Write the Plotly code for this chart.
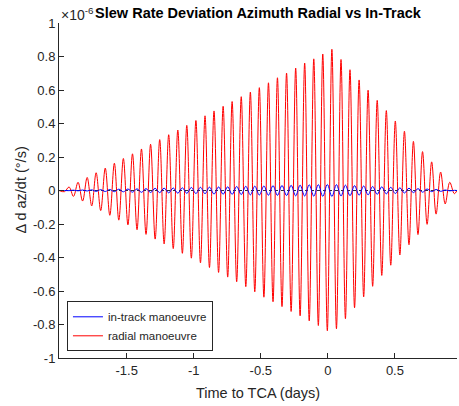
import plotly.graph_objects as go

# Time of each turning point of the oscillation (days relative to TCA)
time_days = [
    -2.005, -1.964, -1.930, -1.897, -1.863, -1.829, -1.795, -1.761, -1.728, -1.694,
    -1.660, -1.626, -1.592, -1.559, -1.525, -1.491, -1.457, -1.423, -1.390, -1.356,
    -1.322, -1.288, -1.254, -1.221, -1.187, -1.153, -1.119, -1.085, -1.052, -1.018,
    -0.984, -0.950, -0.916, -0.883, -0.849, -0.815, -0.781, -0.747, -0.714, -0.680,
    -0.646, -0.612, -0.578, -0.545, -0.511, -0.477, -0.443, -0.409, -0.376, -0.342,
    -0.308, -0.274, -0.240, -0.207, -0.173, -0.139, -0.105, -0.071, -0.038, -0.004,
    0.030, 0.064, 0.098, 0.131, 0.165, 0.199, 0.233, 0.267, 0.300, 0.334,
    0.368, 0.402, 0.436, 0.469, 0.503, 0.537, 0.571, 0.605, 0.638, 0.672,
    0.706, 0.740, 0.774, 0.807, 0.841, 0.875, 0.909, 0.943, 0.963,
]

# Slew rate deviation in azimuth, units of 1e-6 deg/s
radial_dev = [
    0.0, -0.007, 0.021, -0.035, 0.049, -0.063, 0.078, -0.092, 0.106, -0.120,
    0.134, -0.148, 0.163, -0.177, 0.191, -0.205, 0.219, -0.234, 0.248, -0.262,
    0.276, -0.290, 0.304, -0.319, 0.333, -0.347, 0.361, -0.375, 0.389, -0.404,
    0.418, -0.432, 0.446, -0.460, 0.475, -0.489, 0.503, -0.517, 0.531, -0.545,
    0.560, -0.574, 0.588, -0.605, 0.614, -0.637, 0.643, -0.664, 0.673, -0.693,
    0.701, -0.722, 0.731, -0.748, 0.761, -0.778, 0.786, -0.806, 0.815, -0.837,
    0.843, -0.825, 0.782, -0.765, 0.721, -0.700, 0.660, -0.635, 0.599, -0.572,
    0.538, -0.507, 0.477, -0.446, 0.415, -0.385, 0.354, -0.324, 0.293, -0.263,
    0.232, -0.202, 0.171, -0.141, 0.110, -0.080, 0.049, -0.019, 0.0,
]

intrack_dev = [
    0.0, 0.000, -0.001, 0.002, -0.002, 0.003, -0.003, 0.004, -0.005, 0.005,
    -0.006, 0.006, -0.007, 0.008, -0.008, 0.009, -0.010, 0.010, -0.011, 0.011,
    -0.012, 0.013, -0.013, 0.014, -0.014, 0.015, -0.016, 0.016, -0.017, 0.018,
    -0.018, 0.019, -0.019, 0.020, -0.021, 0.021, -0.022, 0.022, -0.023, 0.024,
    -0.024, 0.025, -0.026, 0.026, -0.027, 0.027, -0.028, 0.029, -0.029, 0.030,
    -0.030, 0.031, -0.032, 0.032, -0.033, 0.034, -0.034, 0.035, -0.035, 0.036,
    -0.036, 0.035, -0.033, 0.032, -0.031, 0.029, -0.028, 0.027, -0.026, 0.024,
    -0.023, 0.022, -0.020, 0.019, -0.018, 0.016, -0.015, 0.014, -0.013, 0.011,
    -0.010, 0.009, -0.007, 0.006, -0.005, 0.003, -0.002, 0.001, 0.0,
]

x_ticks = [-1.5, -1.0, -0.5, 0.0, 0.5]
x_tick_text = ["-1.5", "-1", "-0.5", "0", "0.5"]
y_ticks = [-1.0, -0.8, -0.6, -0.4, -0.2, 0.0, 0.2, 0.4, 0.6, 0.8, 1.0]
y_tick_text = ["-1", "-0.8", "-0.6", "-0.4", "-0.2", "0", "0.2", "0.4", "0.6", "0.8", "1"]

FONT = "Liberation Sans, Arial, Helvetica, sans-serif"
AX = "#262626"

fig = go.Figure()
fig.add_trace(go.Scatter(
    x=time_days, y=radial_dev, mode="lines", name="radial manoeuvre",
    line=dict(color="#ff0000", width=1, shape="spline", smoothing=1.0),
))
fig.add_trace(go.Scatter(
    x=time_days, y=intrack_dev, mode="lines", name="in-track manoeuvre",
    line=dict(color="#0000ff", width=1, shape="spline", smoothing=1.0),
))

# zero reference line
fig.add_hline(y=0, line=dict(color="#333333", width=1, dash="dot"), layer="below")

fig.update_layout(
    width=459, height=406,
    margin=dict(l=59, r=2, t=23, b=48),
    paper_bgcolor="white", plot_bgcolor="white",
    font=dict(family=FONT, color=AX, size=13),
    showlegend=True,
    legend=dict(
        x=0.02, y=0.02, xanchor="left", yanchor="bottom",
        bgcolor="white", bordercolor=AX, borderwidth=1,
        font=dict(size=11.5, color=AX, family=FONT),
        traceorder="reversed", tracegroupgap=0,
        itemwidth=30,
    ),
    title=dict(
        text="<b>Slew Rate Deviation Azimuth Radial vs In-Track</b>",
        x=0.5, xref="paper", xanchor="center",
        y=1 - 13 / 406, yref="container", yanchor="middle",
        font=dict(size=14.5, color="#000000", family=FONT),
    ),
    xaxis=dict(
        range=[-2.005, 0.963], tickvals=x_ticks, ticktext=x_tick_text,
        showline=True, linecolor=AX, linewidth=1, mirror=False,
        ticks="inside", ticklen=5, tickcolor=AX, showgrid=False, zeroline=False,
        tickfont=dict(size=13, color=AX),
    ),
    yaxis=dict(
        range=[-1, 1], tickvals=y_ticks, ticktext=y_tick_text,
        showline=True, linecolor=AX, linewidth=1, mirror=False,
        ticks="inside", ticklen=5, tickcolor=AX, showgrid=False, zeroline=False,
        tickfont=dict(size=13, color=AX),
    ),
    annotations=[
        dict(text="×10<sup>-6</sup>", x=0, y=1, xref="paper", yref="paper",
             xanchor="left", yanchor="bottom", yshift=-2, showarrow=False,
             font=dict(size=14, color=AX, family=FONT)),
        dict(text="Time to TCA (days)", x=0.5, y=0.0, xref="paper", yref="paper",
             xanchor="center", yanchor="middle", yshift=-35, showarrow=False,
             font=dict(size=14.5, color=AX, family=FONT)),
        dict(text="Δ d az/dt (°/s)", x=0, y=0.5, xref="paper", yref="paper",
             xanchor="center", yanchor="middle", xshift=-39, textangle=-90,
             showarrow=False, font=dict(size=14.5, color=AX, family=FONT)),
    ],
)

fig.write_html("out.html")
